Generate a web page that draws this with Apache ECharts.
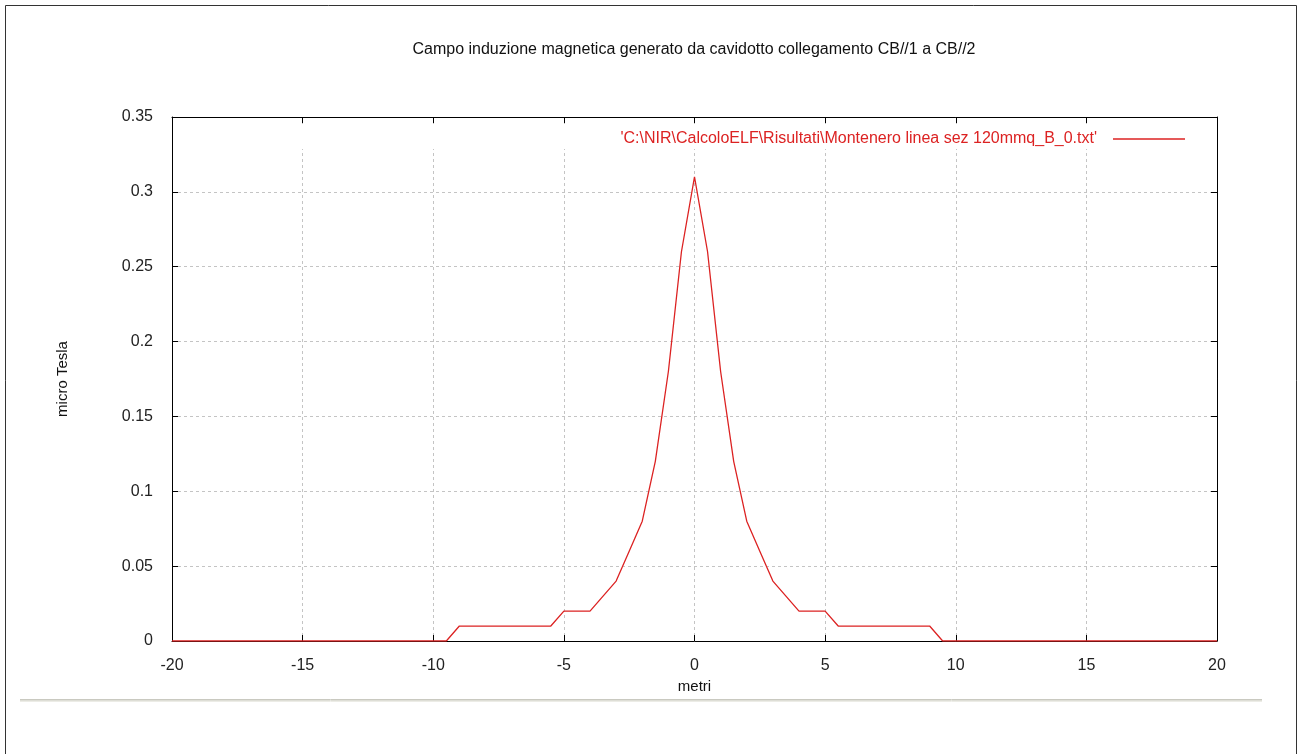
<!DOCTYPE html>
<html>
<head>
<meta charset="utf-8">
<script src="https://cdn.jsdelivr.net/npm/echarts@6/dist/echarts.min.js"></script>
<style>
html,body{margin:0;padding:0;background:#fff;}
#c{width:1301px;height:754px;}
</style>
</head>
<body>
<div id="c"></div>
<script>
var titleText = "Campo induzione magnetica generato da cavidotto collegamento CB//1 a CB//2";
var seriesName = "'C:\\NIR\\CalcoloELF\\Risultati\\Montenero linea sez 120mmq_B_0.txt'";
var xAxisName = "metri";
var yAxisName = "micro Tesla";

var xs = [-20, -19.5, -19, -18.5, -18, -17.5, -17, -16.5, -16, -15.5,
          -15, -14.5, -14, -13.5, -13, -12.5, -12, -11.5, -11, -10.5,
          -10, -9.5, -9, -8.5, -8, -7.5, -7, -6.5, -6, -5.5,
          -5, -4.5, -4, -3.5, -3, -2.5, -2, -1.5, -1, -0.5,
          0, 0.5, 1, 1.5, 2, 2.5, 3, 3.5, 4, 4.5,
          5, 5.5, 6, 6.5, 7, 7.5, 8, 8.5, 9, 9.5,
          10, 10.5, 11, 11.5, 12, 12.5, 13, 13.5, 14, 14.5,
          15, 15.5, 16, 16.5, 17, 17.5, 18, 18.5, 19, 19.5, 20];

var ys = [0, 0, 0, 0, 0, 0, 0, 0, 0, 0,
          0, 0, 0, 0, 0, 0, 0, 0, 0, 0,
          0, 0, 0.01, 0.01, 0.01, 0.01, 0.01, 0.01, 0.01, 0.01,
          0.02, 0.02, 0.02, 0.03, 0.04, 0.06, 0.08, 0.12, 0.18, 0.26,
          0.31, 0.26, 0.18, 0.12, 0.08, 0.06, 0.04, 0.03, 0.02, 0.02,
          0.02, 0.01, 0.01, 0.01, 0.01, 0.01, 0.01, 0.01, 0.01, 0,
          0, 0, 0, 0, 0, 0, 0, 0, 0, 0,
          0, 0, 0, 0, 0, 0, 0, 0, 0, 0, 0];

var data = xs.map(function (x, i) { return [x, ys[i]]; });

var FONT = "'Liberation Sans', Arial, sans-serif";
var RED = '#dc2222';

var chart = echarts.init(document.getElementById('c'), null, {renderer: 'canvas'});
chart.setOption({
  animation: false,
  backgroundColor: '#ffffff',
  title: {
    text: titleText,
    left: 689,
    textAlign: 'center',
    top: 37,
    textStyle: {fontFamily: FONT, fontSize: 16, fontWeight: 'normal', color: '#111'}
  },
  legend: {
    right: 111,
    top: 126,
    align: 'right',
    itemWidth: 72,
    itemHeight: 1.4,
    z: 20,
    textStyle: {fontFamily: FONT, fontSize: 16, color: RED, padding: [0, 11, 0, 0]},
    data: [{name: seriesName, icon: 'rect'}]
  },
  grid: {left: 172, top: 117, right: 84, bottom: 113, show: false},
  xAxis: [{
    type: 'value', min: -20, max: 20, interval: 5, position: 'bottom',
    name: xAxisName, nameLocation: 'middle', nameGap: 36,
    nameTextStyle: {fontFamily: FONT, fontSize: 15, color: '#111'},
    axisLine: {show: true, onZero: false, lineStyle: {color: '#000', width: 1}},
    axisTick: {show: true, inside: true, length: 6, lineStyle: {color: '#000', width: 1}},
    axisLabel: {margin: 17, fontFamily: FONT, fontSize: 16, color: '#222'},
    splitLine: {show: true, lineStyle: {color: '#c4c4c4', type: [3, 3], width: 1}}
  }, {
    type: 'value', min: -20, max: 20, interval: 5, position: 'top',
    axisLine: {show: true, onZero: false, lineStyle: {color: '#000', width: 1}},
    axisTick: {show: true, inside: true, length: 6, lineStyle: {color: '#000', width: 1}},
    axisLabel: {show: false},
    splitLine: {show: false}
  }],
  yAxis: [{
    type: 'value', min: 0, max: 0.35, interval: 0.05, position: 'left',
    name: yAxisName, nameLocation: 'middle', nameGap: 102, nameRotate: 90,
    nameTextStyle: {fontFamily: FONT, fontSize: 15, color: '#111'},
    axisLine: {show: true, onZero: false, lineStyle: {color: '#000', width: 1}},
    axisTick: {show: true, inside: true, length: 6, lineStyle: {color: '#000', width: 1}},
    axisLabel: {margin: 19, fontFamily: FONT, fontSize: 16, color: '#222'},
    splitLine: {show: true, lineStyle: {color: '#c4c4c4', type: [3, 3], width: 1}}
  }, {
    type: 'value', min: 0, max: 0.35, interval: 0.05, position: 'right',
    axisLine: {show: true, onZero: false, lineStyle: {color: '#000', width: 1}},
    axisTick: {show: true, inside: true, length: 6, lineStyle: {color: '#000', width: 1}},
    axisLabel: {show: false},
    splitLine: {show: false}
  }],
  graphic: [
    {type: 'rect', z: 1, silent: true, shape: {x: 174, y: 124, width: 1041, height: 25}, style: {fill: '#ffffff'}},
    {type: 'rect', z: 0, silent: true, shape: {x: 5.5, y: 5.5, width: 1291, height: 760}, style: {fill: 'none', stroke: '#333', lineWidth: 1}},
    {type: 'line', z: 0, silent: true, shape: {x1: 20, y1: 699.5, x2: 1262, y2: 699.5}, style: {stroke: '#c9c9c0', lineWidth: 1}},
    {type: 'line', z: 0, silent: true, shape: {x1: 20, y1: 700.5, x2: 1262, y2: 700.5}, style: {stroke: '#deded6', lineWidth: 1}},
    {type: 'line', z: 0, silent: true, shape: {x1: 20, y1: 701.5, x2: 1262, y2: 701.5}, style: {stroke: '#ecece6', lineWidth: 1}}
  ],
  series: [{
    name: seriesName,
    type: 'line',
    xAxisIndex: 0,
    yAxisIndex: 0,
    data: data,
    symbol: 'none',
    showSymbol: false,
    z: 10,
    lineStyle: {color: RED, width: 1.3},
    itemStyle: {color: RED}
  }]
});
</script>
</body>
</html>
